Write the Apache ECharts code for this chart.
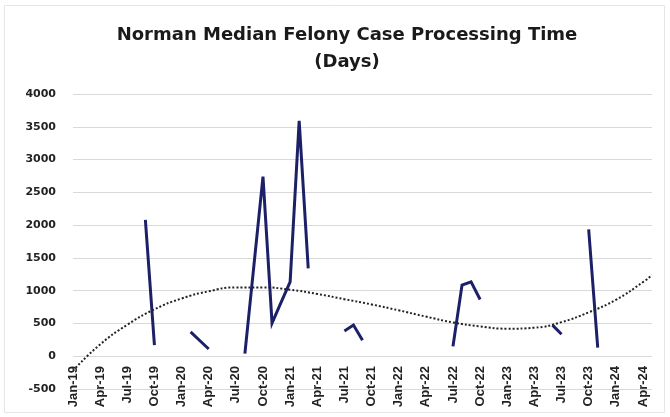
<!DOCTYPE html>
<html>
<head>
<meta charset="utf-8">
<script src="https://cdn.jsdelivr.net/npm/echarts@6/dist/echarts.min.js"></script>
<style>
  html, body { margin: 0; padding: 0; background: #ffffff; }
  #chart { width: 670px; height: 417px; }
</style>
</head>
<body>
<div id="chart"></div>
<script>
var categories = [
  'Jan-19','Feb-19','Mar-19','Apr-19','May-19','Jun-19','Jul-19','Aug-19','Sep-19','Oct-19','Nov-19','Dec-19',
  'Jan-20','Feb-20','Mar-20','Apr-20','May-20','Jun-20','Jul-20','Aug-20','Sep-20','Oct-20','Nov-20','Dec-20',
  'Jan-21','Feb-21','Mar-21','Apr-21','May-21','Jun-21','Jul-21','Aug-21','Sep-21','Oct-21','Nov-21','Dec-21',
  'Jan-22','Feb-22','Mar-22','Apr-22','May-22','Jun-22','Jul-22','Aug-22','Sep-22','Oct-22','Nov-22','Dec-22',
  'Jan-23','Feb-23','Mar-23','Apr-23','May-23','Jun-23','Jul-23','Aug-23','Sep-23','Oct-23','Nov-23','Dec-23',
  'Jan-24','Feb-24','Mar-24','Apr-24','May-24'
];

var medianDays = [
  null, null, null, null, null, null, null, null, 2080, 170, null, null,
  null, 370, 240, 110, null, null, null, 40, 1390, 2740, 505, 820,
  1135, 3590, 1340, null, null, null, 385, 475, 245, null, null, null,
  null, null, null, null, null, null, 150, 1085, 1135, 865, null, null,
  null, null, null, null, null, 475, 335, null, null, 1935, 130, null,
  null, null, null, null, null
];

var trendDays = [
  -220, null, null, 180, null, null, 480, null, null, 715, null, null,
  880, null, null, 990, null, null, 1050, null, null, 1050, null, null,
  1015, null, null, 950, null, null, 870, null, null, 790, null, null,
  700, null, null, 605, null, null, 515, null, null, 455, null, null,
  420, null, null, 435, null, null, 520, null, null, 670, null, null,
  860, null, null, 1130, 1240
];

var yMin = -500, yMax = 4000, yStep = 500;

var chart = echarts.init(document.getElementById('chart'), null, { renderer: 'canvas' });
chart.setOption({
  animation: false,
  backgroundColor: '#ffffff',
  title: {
    text: 'Norman Median Felony Case Processing Time\n(Days)',
    left: 342,
    top: 17,
    textAlign: 'center',
    textStyle: {
      fontFamily: 'DejaVu Sans',
      fontWeight: 'bold',
      fontSize: 18,
      lineHeight: 27,
      color: '#1a1a1a'
    }
  },
  graphic: [{
    type: 'rect',
    shape: { x: 4.5, y: 5.5, width: 660, height: 407 },
    style: { fill: 'none', stroke: '#e6e6e6', lineWidth: 1 },
    silent: true
  }],
  grid: { left: 73, right: 18, top: 94, bottom: 28, containLabel: false, outerBoundsMode: 'none' },
  xAxis: {
    type: 'category',
    data: categories,
    boundaryGap: false,
    axisLine: { show: false, onZero: true },
    axisTick: { show: false },
    axisLabel: {
      interval: 2,
      rotate: 90,
      margin: -23,
      color: '#222222',
      fontFamily: 'Liberation Sans',
      fontWeight: 'bold',
      fontSize: 13
    },
    splitLine: { show: false }
  },
  yAxis: {
    type: 'value',
    min: yMin,
    max: yMax,
    interval: yStep,
    axisLine: { show: false },
    axisTick: { show: false },
    axisLabel: {
      margin: 17,
      color: '#222222',
      fontFamily: 'DejaVu Sans',
      fontWeight: 'bold',
      fontSize: 11,
      formatter: function (v) { return String(v); }
    },
    splitLine: { show: true, lineStyle: { color: '#d9d9d9', width: 1 } }
  },
  series: [
    {
      name: 'Median Days',
      type: 'line',
      data: medianDays,
      connectNulls: false,
      showSymbol: false,
      symbol: 'none',
      lineStyle: { color: '#1c2167', width: 3, join: 'miter' },
      z: 2
    },
    {
      name: 'Trend',
      type: 'line',
      data: trendDays,
      connectNulls: true,
      smooth: 0.5,
      showSymbol: false,
      symbol: 'none',
      lineStyle: { color: '#222222', width: 2, type: [2, 2] },
      z: 3
    }
  ]
});
</script>
</body>
</html>
